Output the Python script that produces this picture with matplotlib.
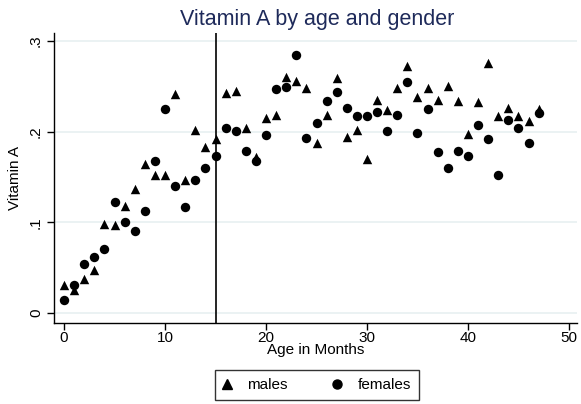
import matplotlib
matplotlib.use("Agg")
import matplotlib.pyplot as plt
from matplotlib.lines import Line2D

plt.rcParams['font.family'] = ['Liberation Sans', 'DejaVu Sans']

months = list(range(48))
males = [0.031, 0.025, 0.038, 0.048, 0.098, 0.097, 0.118, 0.137, 0.164, 0.152,
         0.152, 0.242, 0.147, 0.202, 0.183, 0.192, 0.243, 0.245, 0.204, 0.172,
         0.215, 0.219, 0.261, 0.256, 0.248, 0.188, 0.218, 0.259, 0.194, 0.202,
         0.170, 0.235, 0.224, 0.248, 0.273, 0.238, 0.248, 0.235, 0.251, 0.234,
         0.198, 0.233, 0.276, 0.217, 0.226, 0.217, 0.212, 0.225]
females = [0.014, 0.031, 0.054, 0.062, 0.071, 0.122, 0.100, 0.091, 0.113, 0.168,
           0.225, 0.140, 0.117, 0.147, 0.160, 0.173, 0.204, 0.201, 0.179, 0.168,
           0.197, 0.247, 0.249, 0.285, 0.193, 0.210, 0.234, 0.244, 0.226, 0.217,
           0.217, 0.222, 0.201, 0.218, 0.255, 0.199, 0.225, 0.178, 0.160, 0.179,
           0.173, 0.208, 0.192, 0.152, 0.213, 0.204, 0.188, 0.221]
xticks = [0, 10, 20, 30, 40, 50]
yticks = [0, 0.1, 0.2, 0.3]
ytick_labels = ["0", ".1", ".2", ".3"]
cutoff = 15

fig = plt.figure(figsize=(5.81, 4.04), dpi=100)
ax = fig.add_axes([54/581, 1 - 323/404, (577-54)/581, (323-33)/404])

for y in yticks:
    ax.axhline(y, color='#e8f0f1', lw=1.2, zorder=0)

ax.scatter(months, males, marker='^', s=46, color='black', linewidths=0, zorder=3)
ax.scatter(months, females, marker='o', s=46, color='black', linewidths=0, zorder=3)
ax.axvline(cutoff, color='black', lw=1.2, zorder=2)

ax.set_xlim(-1, 50.8)
ax.set_ylim(-0.011, 0.309)
ax.set_xticks(xticks)
ax.set_yticks(yticks)
ax.set_yticklabels(ytick_labels, rotation=90, va='center')
ax.tick_params(axis='both', direction='out', length=5, width=1, labelsize=11, colors='black')
ax.tick_params(axis='x', pad=1)
ax.tick_params(axis='y', pad=3)
for s in ['top', 'right']:
    ax.spines[s].set_visible(False)
for s in ['left', 'bottom']:
    ax.spines[s].set_linewidth(1)

ax.set_xlabel("Age in Months", fontsize=11, labelpad=-2)
ax.set_ylabel("Vitamin A", fontsize=11, labelpad=5)
fig.text(317/581, 1 - 20/404, "Vitamin A by age and gender", ha='center', va='center',
         fontsize=15.5, color='#1e2a5a')

handles = [Line2D([], [], marker='^', color='black', ls='none', markersize=6.5),
           Line2D([], [], marker='o', color='black', ls='none', markersize=6.5)]
leg = fig.legend(handles, ["males", "females"], loc='center', bbox_to_anchor=(317/581, 1 - 385/404),
                 ncol=2, frameon=True, fancybox=False, edgecolor='black', fontsize=11,
                 columnspacing=2.95, handletextpad=1.1, borderpad=0.55, handlelength=0.5,
                 borderaxespad=0)
leg.get_frame().set_linewidth(1)

fig.savefig("out.png", dpi=100, facecolor='white')
